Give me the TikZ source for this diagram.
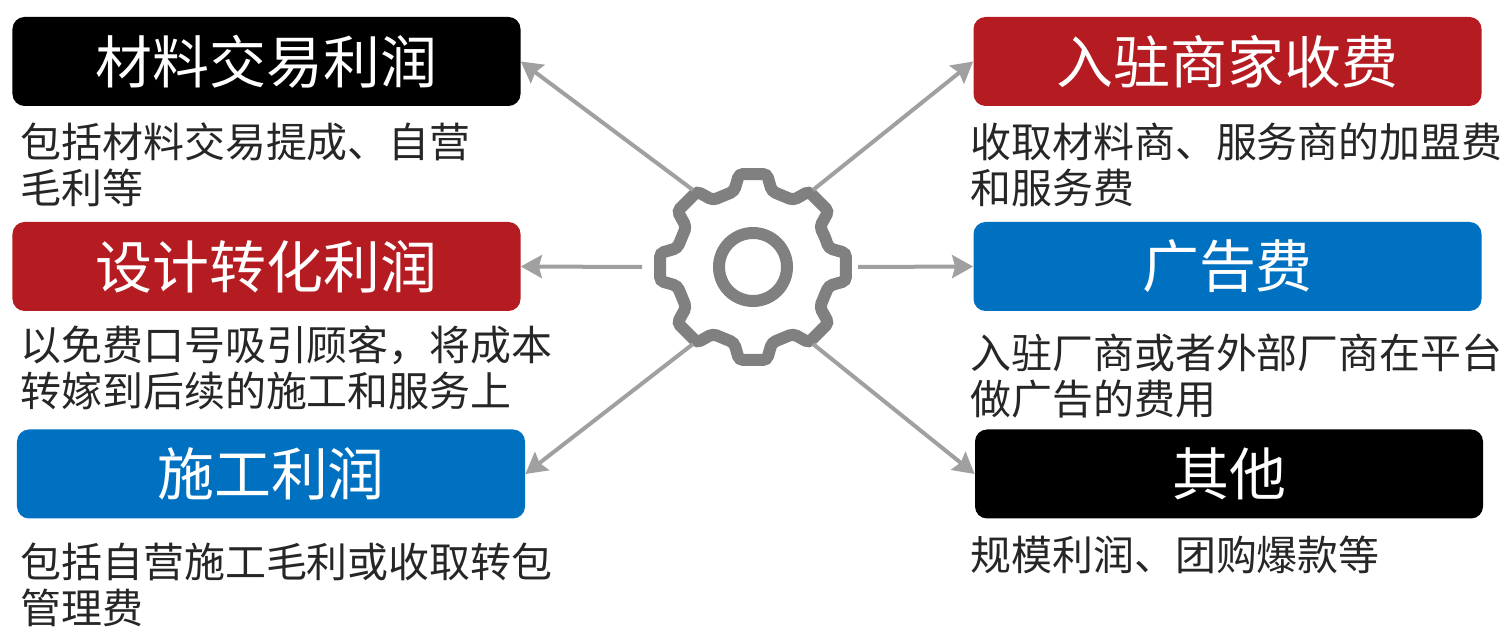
\documentclass[tikz,border=0pt]{standalone}
\usepackage{fontspec}
\setmainfont{Noto Sans CJK SC}
\usetikzlibrary{arrows.meta}
\definecolor{boxred}{RGB}{181,28,34}
\definecolor{boxblue}{RGB}{0,112,192}
\definecolor{geargray}{RGB}{128,128,128}
\definecolor{linkgray}{RGB}{160,160,160}
\tikzset{
  title/.style={rounded corners=2.4mm, minimum width=101.6mm, minimum height=17.8mm,
    inner sep=0, text=white, font=\fontsize{32.4}{36}\selectfont},
  note/.style={anchor=west, align=left, inner sep=0, text=black!85,
    font=\fontsize{23.3}{26.2}\selectfont},
  link/.style={draw=linkgray, line width=0.8mm,
    -{Stealth[length=4.2mm,width=4.6mm,inset=0.6mm]}}
}

\begin{document}
\begin{tikzpicture}[x=0.2mm,y=-0.2mm]
  \useasboundingbox (0,0) rectangle (1504,635);
  % left side
  \node[title, fill=black]   (material) at (266.5,61.5) {材料交易利润};
  \node[title, fill=boxred]  (design)   at (266.5,266.5) {设计转化利润};
  \node[title, fill=boxblue] (build)    at (271,474) {施工利润};
  \node[note] (materialnote) at (20,165) {包括材料交易提成、自营\\毛利等};
  \node[note] (designnote)   at (20,367.5) {以免费口号吸引顾客，将成本\\转嫁到后续的施工和服务上};
  \node[note] (buildnote)    at (20,585) {包括自营施工毛利或收取转包\\管理费};
  % right side
  \node[title, fill=boxred]  (vendor) at (1227.5,61.5) {入驻商家收费};
  \node[title, fill=boxblue] (advert) at (1227.5,266.5) {广告费};
  \node[title, fill=black]   (other)  at (1229,474) {其他};
  \node[note] (vendornote) at (970,165) {收取材料商、服务商的加盟费\\和服务费};
  \node[note] (advertnote) at (970,376) {入驻厂商或者外部厂商在平台\\做广告的费用};
  \node[note] (othernote)  at (970,555) {规模利润、团购爆款等};
  % gear
  \begin{scope}[shift={(753,267)}]
    \draw[geargray, line width=2.4mm, rounded corners=0.8mm] (-22.5:78)
      \foreach \a in {0,45,...,315}{ -- (\a-14:78) -- (\a-8.5:94) -- (\a+8.5:94) -- (\a+14:78)} -- cycle;
    \draw[geargray, line width=2.4mm] (0,0) circle[radius=34];
  \end{scope}
  \coordinate (gNW) at (693,190);
  \coordinate (gNE) at (813,190);
  \coordinate (gW)  at (642,267);
  \coordinate (gE)  at (858,267);
  \coordinate (gSW) at (693,344);
  \coordinate (gSE) at (813,344);
  % arrows
  \draw[link] (gNW) -- (material.east);
  \draw[link] (gW)  -- (design.east);
  \draw[link] (gSW) -- (build.east);
  \draw[link] (gNE) -- (vendor.west);
  \draw[link] (gE)  -- (advert.west);
  \draw[link] (gSE) -- (other.west);
\end{tikzpicture}
\end{document}
